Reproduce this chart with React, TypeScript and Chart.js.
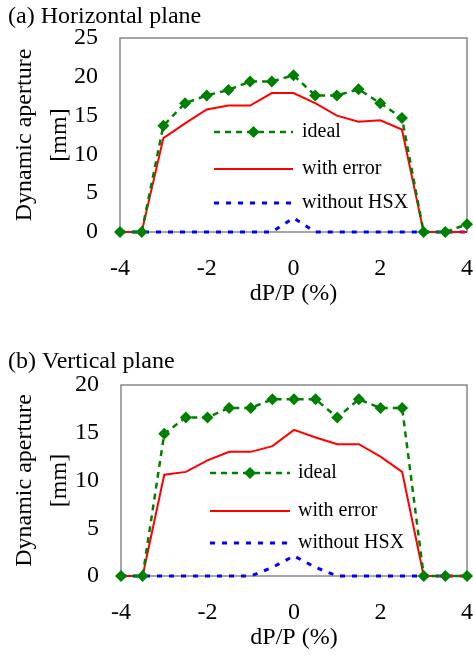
import React, { useEffect, useRef } from "react";
import { Chart, registerables } from "chart.js";

Chart.register(...registerables);

// ---- data ----
const dpp = [-4, -3.5, -3, -2.5, -2, -1.5, -1, -0.5, 0, 0.5, 1, 1.5, 2, 2.5, 3, 3.5, 4];

const hIdeal = [0, 0, 13.7, 16.6, 17.6, 18.3, 19.4, 19.4, 20.2, 17.6, 17.6, 18.4, 16.6, 14.7, 0, 0, 1.0];
const hWithError = [0, 0, 12.1, 14.0, 15.8, 16.3, 16.3, 17.9, 17.9, 16.6, 15.0, 14.2, 14.4, 13.2, 0, 0, 0];
const hWithoutHSX = [0, 0, 0, 0, 0, 0, 0, 0, 1.8, 0, 0, 0, 0, 0, 0, 0, 0];

const vIdeal = [0, 0, 14.9, 16.6, 16.6, 17.6, 17.6, 18.5, 18.5, 18.5, 16.6, 18.5, 17.6, 17.6, 0, 0, 0];
const vWithError = [0, 0, 10.6, 10.9, 12.1, 13.0, 13.0, 13.6, 15.3, 14.5, 13.8, 13.8, 12.5, 10.9, 0, 0, 0];
const vWithoutHSX = [0, 0, 0, 0, 0, 0, 0, 0.9, 2.1, 0.9, 0, 0, 0, 0, 0, 0, 0];

const seriesNames = ["ideal", "with error", "without HSX"];
const xTitle = "dP/P (%)";
const yTitleLines = ["Dynamic aperture", "[mm]"];
const panelTitles = ["(a) Horizontal plane", "(b) Vertical plane"];

const FONT = "'Liberation Serif', 'Times New Roman', serif";
const W = 473;
const H = 330;

type Layout = {
  areaTop: number;
  areaBottom: number;
  left: number;
  right: number;
  yMax: number;
  titleY: number;
  xTitleY: number;
  legend: { x0: number; x1: number; tx: number; ys: number[] };
};

const styles = [
  { color: "#008000", width: 2.5, dash: [6, 5], marker: true },
  { color: "#ff0000", width: 2, dash: [] as number[], marker: false },
  { color: "#0000ff", width: 3, dash: [5, 7], marker: false },
];

function drawDiamond(ctx: CanvasRenderingContext2D, x: number, y: number, r: number, color: string) {
  ctx.beginPath();
  ctx.moveTo(x, y - r);
  ctx.lineTo(x + r, y);
  ctx.lineTo(x, y + r);
  ctx.lineTo(x - r, y);
  ctx.closePath();
  ctx.fillStyle = color;
  ctx.fill();
}

function makeDecor(title: string, L: Layout) {
  return {
    id: "decor",
    beforeDatasetsDraw(chart: any) {
      const { ctx, chartArea: a } = chart;
      ctx.save();
      ctx.strokeStyle = "#888888";
      ctx.lineWidth = 1.5;
      ctx.strokeRect(a.left, a.top, a.right - a.left, a.bottom - a.top);
      ctx.restore();
    },
    afterDraw(chart: any) {
      const { ctx, chartArea: a } = chart;
      ctx.save();
      ctx.fillStyle = "#000";
      // panel title
      ctx.font = `24px ${FONT}`;
      ctx.textAlign = "left";
      ctx.textBaseline = "middle";
      ctx.fillText(title, 8, L.titleY);
      // x title
      ctx.textAlign = "center";
      ctx.fillText(xTitle, (a.left + a.right) / 2, L.xTitleY);
      // y title (rotated)
      const cy = (a.top + a.bottom) / 2;
      const xs = [25, 60];
      yTitleLines.forEach((t, i) => {
        ctx.save();
        ctx.translate(xs[i], cy);
        ctx.rotate(-Math.PI / 2);
        ctx.textAlign = "center";
        ctx.textBaseline = "middle";
        ctx.fillText(t, 0, 0);
        ctx.restore();
      });
      // legend
      ctx.font = `20px ${FONT}`;
      ctx.textAlign = "left";
      seriesNames.forEach((name, i) => {
        const s = styles[i];
        const y = L.legend.ys[i];
        ctx.save();
        ctx.strokeStyle = s.color;
        ctx.lineWidth = s.width;
        ctx.setLineDash(s.dash);
        ctx.beginPath();
        ctx.moveTo(L.legend.x0, y);
        ctx.lineTo(L.legend.x1, y);
        ctx.stroke();
        ctx.restore();
        if (s.marker) drawDiamond(ctx, (L.legend.x0 + L.legend.x1) / 2, y, 6, s.color);
        ctx.fillStyle = "#000";
        ctx.fillText(name, L.legend.tx, y);
      });
      ctx.restore();
    },
  };
}

function Panel({ title, series, layout, top }: { title: string; series: number[][]; layout: Layout; top: number }) {
  const ref = useRef<HTMLCanvasElement | null>(null);
  useEffect(() => {
    if (!ref.current) return;
    const L = layout;
    const datasets = series.map((arr, i) => {
      const s = styles[i];
      return {
        label: seriesNames[i],
        data: dpp.map((x, k) => ({ x, y: arr[k] })),
        borderColor: s.color,
        backgroundColor: s.color,
        borderWidth: s.width,
        borderDash: s.dash,
        pointStyle: "rectRot" as const,
        pointRadius: s.marker ? 6 : 0,
        pointBorderWidth: 0,
        pointBackgroundColor: s.color,
        tension: 0,
        clip: false as any,
        fill: false,
      };
    });
    const tickFont = { family: FONT, size: 24 };
    const chart = new Chart(ref.current, {
      type: "line",
      data: { datasets },
      options: {
        animation: false,
        responsive: false,
        devicePixelRatio: 1,
        layout: { padding: { top: L.areaTop, right: W - L.right, left: 0, bottom: 0 } },
        plugins: { legend: { display: false }, tooltip: { enabled: false }, title: { display: false } },
        scales: {
          x: {
            type: "linear",
            min: -4,
            max: 4,
            grid: { display: false, drawTicks: false },
            border: { display: false },
            ticks: { stepSize: 2, font: tickFont, color: "#000", padding: 22, maxRotation: 0, autoSkip: false },
            afterFit: (s: any) => {
              s.height = H - L.areaBottom;
              s.paddingLeft = 0;
              s.paddingRight = 0;
            },
          },
          y: {
            type: "linear",
            min: 0,
            max: L.yMax,
            grid: { display: false, drawTicks: false },
            border: { display: false },
            ticks: { stepSize: 5, font: tickFont, color: "#000", padding: 22 },
            afterFit: (s: any) => {
              s.width = L.left;
              s.paddingTop = 0;
              s.paddingBottom = 0;
            },
          },
        },
      },
      plugins: [makeDecor(title, L)],
    } as any);
    return () => chart.destroy();
  }, []);
  return (
    <canvas
      ref={ref}
      width={W}
      height={H}
      style={{ position: "absolute", left: 0, top, width: W, height: H, display: "block" }}
    />
  );
}

const topLayout: Layout = {
  areaTop: 38,
  areaBottom: 232,
  left: 120,
  right: 468,
  yMax: 25,
  titleY: 17,
  xTitleY: 294,
  legend: { x0: 214, x1: 293, tx: 302, ys: [132, 169, 203] },
};

const bottomLayout: Layout = {
  areaTop: 55,
  areaBottom: 246,
  left: 121,
  right: 468,
  yMax: 20,
  titleY: 32,
  xTitleY: 308,
  legend: { x0: 210, x1: 290, tx: 298, ys: [143, 181, 213] },
};

export default function App() {
  return (
    <div style={{ position: "absolute", left: 0, top: 0, width: W, height: 660, background: "#fff" }}>
      <Panel title={panelTitles[0]} series={[hIdeal, hWithError, hWithoutHSX]} layout={topLayout} top={0} />
      <Panel title={panelTitles[1]} series={[vIdeal, vWithError, vWithoutHSX]} layout={bottomLayout} top={330} />
    </div>
  );
}
